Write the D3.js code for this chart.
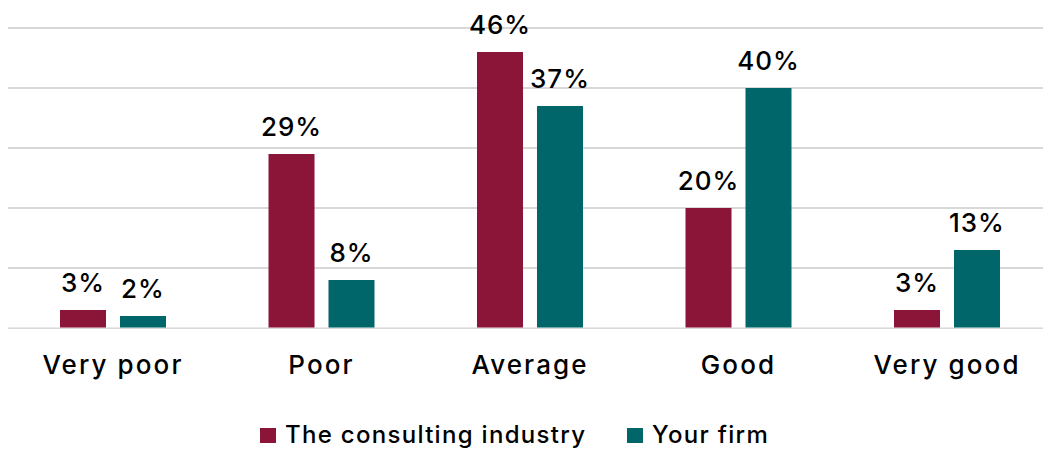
<!DOCTYPE html>
<html>
<head>
<meta charset="utf-8">
<script src="https://cdn.jsdelivr.net/npm/d3@7"></script>
<style>
  html, body { margin: 0; padding: 0; background: #fff; }
  svg { display: block; font-family: Inter, Lato, sans-serif; font-weight: 500; }
</style>
</head>
<body>
<svg id="chart" width="1043" height="450"></svg>
<script>
// Ratings and the share of respondents giving each one
const categories = ["Very poor", "Poor", "Average", "Good", "Very good"];
const seriesNames = ["The consulting industry", "Your firm"];
const industryValues = [3, 29, 46, 20, 3];
const firmValues = [2, 8, 37, 40, 13];
const yTicks = [0, 10, 20, 30, 40, 50];
const colors = ["#8B1538", "#00666A"];

const svg = d3.select("#chart");

const x = d3.scaleBand().domain(categories).range([8.75, 1051.25]);
const inner = d3.scaleBand().domain(seriesNames).range([-53, 53]).paddingInner(0.233);
const y = d3.scaleLinear().domain([0, 50]).range([328, 28]);

// Horizontal gridlines
svg.append("g")
  .selectAll("line")
  .data(yTicks)
  .join("line")
  .attr("x1", 8).attr("x2", 1043)
  .attr("y1", d => y(d)).attr("y2", d => y(d))
  .attr("stroke", "#d9d9d9")
  .attr("stroke-width", 2);

const rows = categories.map((c, i) => ({
  cat: c,
  vals: [
    { s: seriesNames[0], v: industryValues[i], color: colors[0] },
    { s: seriesNames[1], v: firmValues[i], color: colors[1] }
  ]
}));

const groups = svg.append("g")
  .selectAll("g")
  .data(rows)
  .join("g")
  .attr("transform", d => `translate(${x(d.cat) + x.bandwidth() / 2},0)`);

groups.selectAll("rect")
  .data(d => d.vals)
  .join("rect")
  .attr("x", d => inner(d.s))
  .attr("width", inner.bandwidth())
  .attr("y", d => y(d.v))
  .attr("height", d => y(0) - y(d.v))
  .attr("fill", d => d.color);

// Faint baseline running across the foot of the bars
svg.append("line")
  .attr("x1", 8).attr("x2", 1043)
  .attr("y1", y(0) - 0.5).attr("y2", y(0) - 0.5)
  .attr("stroke", "#ffffff")
  .attr("stroke-opacity", 0.45)
  .attr("stroke-width", 1);

groups.selectAll("text.value")
  .data(d => d.vals)
  .join("text")
  .attr("class", "value")
  .attr("x", d => inner(d.s) + inner.bandwidth() / 2)
  .attr("y", d => y(d.v) - 18.5)
  .attr("text-anchor", "middle")
  .attr("font-size", 26)
  .attr("letter-spacing", 1)
  .attr("fill", "#000")
  .text(d => d.v + "%");

// Category axis labels
svg.append("g")
  .selectAll("text")
  .data(categories)
  .join("text")
  .attr("x", d => x(d) + x.bandwidth() / 2)
  .attr("y", 374)
  .attr("text-anchor", "middle")
  .attr("font-size", 26)
  .attr("letter-spacing", 2.1)
  .attr("fill", "#000")
  .text(d => d);

// Legend
const legendPos = [260, 627];
const legend = svg.append("g")
  .selectAll("g")
  .data(seriesNames)
  .join("g")
  .attr("transform", (d, i) => `translate(${legendPos[i]},0)`);

legend.append("rect")
  .attr("x", 0).attr("y", 428)
  .attr("width", 16).attr("height", 15)
  .attr("fill", (d, i) => colors[i]);

legend.append("text")
  .attr("x", 25).attr("y", 443)
  .attr("font-size", 24)
  .attr("letter-spacing", 1.3)
  .attr("fill", "#000")
  .text(d => d);
</script>
</body>
</html>
